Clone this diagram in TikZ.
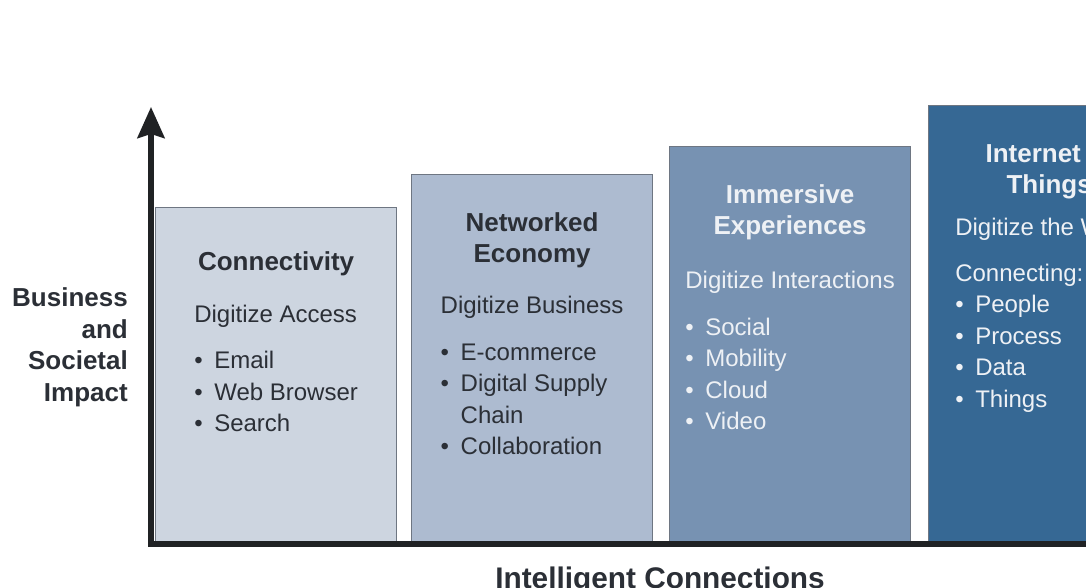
\documentclass[tikz,border=0pt]{standalone}
\usepackage{fontspec}
\setmainfont{Liberation Sans}
\usetikzlibrary{positioning, arrows.meta}
\definecolor{stageA}{HTML}{CDD5E0}
\definecolor{stageB}{HTML}{ADBBD0}
\definecolor{stageC}{HTML}{7792B2}
\definecolor{stageD}{HTML}{366894}
\definecolor{stageline}{HTML}{6E7682}
\definecolor{darktext}{HTML}{2B2F36}
\definecolor{lighttext}{HTML}{EEF1F5}
\definecolor{axisgray}{HTML}{202224}
\newcommand{\bpoint}[1]{\makebox[20pt][l]{\textbullet}#1}
\tikzset{
stage/.style={
  draw=stageline,
  line width=1.2pt,
  rectangle,
  anchor=north west,
  minimum width=241pt, inner sep=0pt
  },
title/.style={font=\fontsize{26}{31.5}\selectfont\bfseries, align=center, inner sep=0pt},
body/.style={font=\fontsize{24}{31.5}\selectfont, align=left, inner sep=0pt},
axis/.style={line width=5.5pt, draw=axisgray}
}
\begin{document}
\begin{tikzpicture}[x=1pt, y=-1pt]
\path[use as bounding box, clip] (0,0) rectangle (1086,588);
\node[stage, fill=stageA, minimum height=336pt] (conn) at (155,207) {};
\node[stage, fill=stageB, minimum height=369pt] (netw) at (411,174) {};
\node[stage, fill=stageC, minimum height=397pt] (imm) at (669,146) {};
\node[stage, fill=stageD, minimum height=438pt] (iot) at (928,105) {};
% titles
\node[title, text=darktext, below=44pt of conn.north] (conntitle) {Connectivity};
\node[title, text=darktext, below=38pt of netw.north] (netwtitle) {Networked\\Economy};
\node[title, text=lighttext, below=38pt of imm.north] (immtitle) {Immersive\\Experiences};
\node[title, text=lighttext, below=38pt of iot.north] (iottitle) {Internet of\\Things};
% contents
\node[body, text=darktext, below=97.5pt of conn.north] (connbody)
  {Digitize Access\\[15pt] \bpoint{Email}\\ \bpoint{Web Browser}\\ \bpoint{Search}};
\node[body, text=darktext, below=122pt of netw.north] (netwbody)
  {Digitize Business\\[15pt] \bpoint{E-commerce}\\ \bpoint{Digital Supply}\\
   \makebox[20pt]{}Chain\\ \bpoint{Collaboration}};
\node[body, text=lighttext, below=125pt of imm.north] (immbody)
  {Digitize Interactions\\[15pt] \bpoint{Social}\\ \bpoint{Mobility}\\ \bpoint{Cloud}\\ \bpoint{Video}};
\node[body, text=lighttext, below=113pt of iot.north] (iotbody)
  {Digitize the World\\[14pt] Connecting:\\ \bpoint{People}\\ \bpoint{Process}\\ \bpoint{Data}\\ \bpoint{Things}};
% axes
\coordinate (origin) at (151,544);
\coordinate (ytip) at (151,107);
\coordinate (xend) at (1100,544);
\draw[axis, -{Stealth[length=31pt, width=27pt, inset=4pt]}] (xend) -- (origin) -- (ytip);
\node[title, text=darktext, align=right, anchor=north east] (ylabel) at (128,287.5)
  {Business\\and\\Societal\\Impact};
\node[font=\fontsize{29.8}{36}\selectfont\bfseries, text=darktext, anchor=base, inner sep=0pt] (xlabel) at (660,588)
  {Intelligent Connections};
\end{tikzpicture}
\end{document}
